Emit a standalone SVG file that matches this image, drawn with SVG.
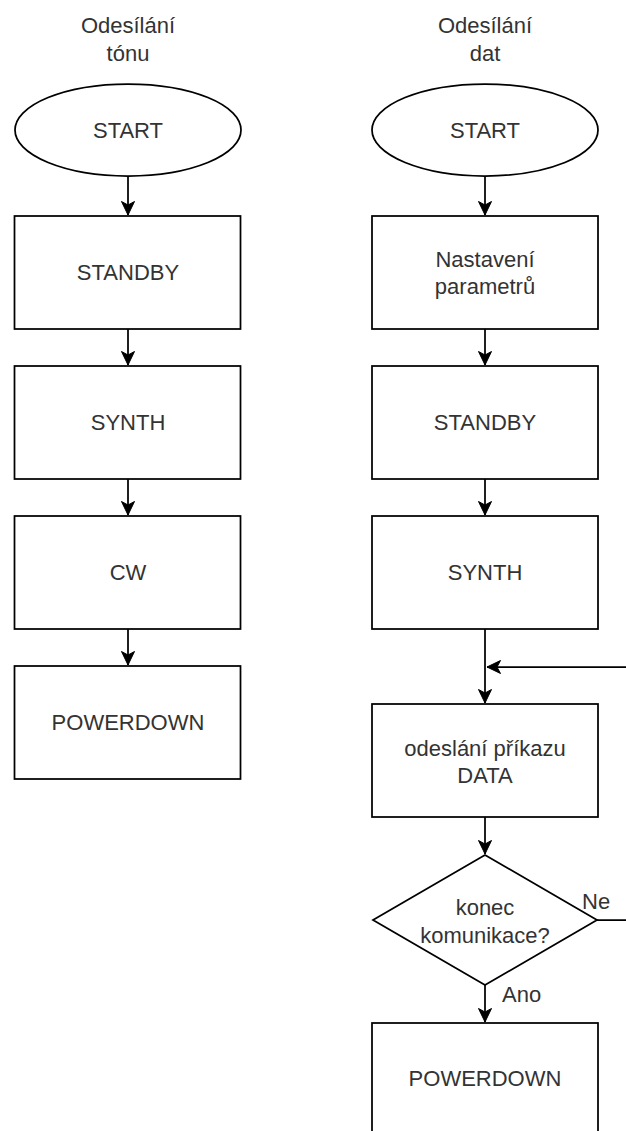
<svg xmlns="http://www.w3.org/2000/svg" width="626" height="1131" viewBox="0 0 626 1131">
<defs>
<style>
.shape{fill:#fff;stroke:#000;stroke-width:1.75}
.conn{fill:none;stroke:#000;stroke-width:1.75}
text{font-family:"Liberation Sans",Arial,Helvetica,sans-serif;font-size:22px;fill:#333;text-anchor:middle;dominant-baseline:central}
.lbl{text-anchor:start}
</style>
<marker id="arrow" markerUnits="userSpaceOnUse" markerWidth="16" markerHeight="16" viewBox="-15 -8 16 16" refX="0" refY="0" orient="auto">
<path d="M0,0 L-13.5,-6.5 L-10,0 L-13.5,6.5 Z" fill="#000" stroke="#000" stroke-width="1"/>
</marker>
</defs>
<rect width="626" height="1131" fill="#fff"/>

<g id="title-left"><text x="128" y="25">Odesílání</text><text x="128" y="53">tónu</text></g>
<g id="title-right"><text x="485" y="25">Odesílání</text><text x="485" y="53">dat</text></g>

<g id="connectors">
<line class="conn" x1="128" y1="176" x2="128" y2="215" marker-end="url(#arrow)"/>
<line class="conn" x1="128" y1="329" x2="128" y2="365" marker-end="url(#arrow)"/>
<line class="conn" x1="128" y1="479" x2="128" y2="515" marker-end="url(#arrow)"/>
<line class="conn" x1="128" y1="629" x2="128" y2="665" marker-end="url(#arrow)"/>
<line class="conn" x1="485" y1="176" x2="485" y2="215" marker-end="url(#arrow)"/>
<line class="conn" x1="485" y1="329" x2="485" y2="365" marker-end="url(#arrow)"/>
<line class="conn" x1="485" y1="479" x2="485" y2="515" marker-end="url(#arrow)"/>
<line class="conn" x1="485" y1="629" x2="485" y2="703" marker-end="url(#arrow)"/>
<line class="conn" x1="485" y1="817" x2="485" y2="854" marker-end="url(#arrow)"/>
<line class="conn" x1="485" y1="985" x2="485" y2="1022" marker-end="url(#arrow)"/>
<path class="conn" d="M597,920 H640 V667 H487" marker-end="url(#arrow)"/>
<text class="lbl" x="582" y="901">Ne</text>
<text class="lbl" x="502" y="994">Ano</text>
</g>

<g id="start-left"><ellipse class="shape" cx="128" cy="130" rx="113" ry="46"/><text x="128" y="130">START</text></g>
<g id="standby-left"><rect class="shape" x="14.5" y="216" width="226" height="113"/><text x="128" y="272">STANDBY</text></g>
<g id="synth-left"><rect class="shape" x="14.5" y="366" width="226" height="113"/><text x="128" y="422">SYNTH</text></g>
<g id="cw-left"><rect class="shape" x="14.5" y="516" width="226" height="113"/><text x="128" y="572">CW</text></g>
<g id="powerdown-left"><rect class="shape" x="14.5" y="666" width="226" height="113"/><text x="128" y="722">POWERDOWN</text></g>

<g id="start-right"><ellipse class="shape" cx="485" cy="130" rx="113" ry="46"/><text x="485" y="130">START</text></g>
<g id="nastaveni-right"><rect class="shape" x="372" y="216" width="226" height="113"/><text x="485" y="259">Nastavení</text><text x="485" y="286">parametrů</text></g>
<g id="standby-right"><rect class="shape" x="372" y="366" width="226" height="113"/><text x="485" y="422">STANDBY</text></g>
<g id="synth-right"><rect class="shape" x="372" y="516" width="226" height="113"/><text x="485" y="572">SYNTH</text></g>
<g id="data-right"><rect class="shape" x="372" y="704" width="226" height="113"/><text x="485" y="748">odeslání příkazu</text><text x="485" y="775">DATA</text></g>
<g id="decision-right"><polygon class="shape" points="485,855 597,920 485,985 373,920"/><text x="485" y="907">konec</text><text x="485" y="935">komunikace?</text></g>
<g id="powerdown-right"><rect class="shape" x="372" y="1023" width="226" height="113"/><text x="485" y="1078">POWERDOWN</text></g>
</svg>
